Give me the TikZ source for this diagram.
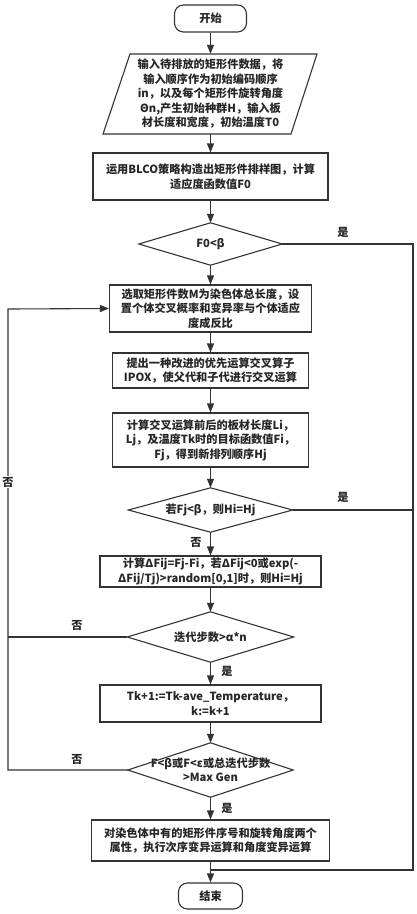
\documentclass[tikz,border=0pt]{standalone}
\usepackage{fontspec}
\setmainfont{Noto Sans CJK SC}
\usetikzlibrary{arrows.meta}
\tikzset{
  base/.style={font=\fontsize{11.2pt}{14.5pt}\selectfont\bfseries, text=black!85, align=center, inner sep=0pt},
  proc/.style={base, draw=black!80, line width=1.1pt},
  term/.style={proc, rounded corners=9pt},
  plain/.style={base},
  flow/.style={draw=black!80, line width=1.1pt},
  arr/.style={flow, -{Triangle[length=9pt,width=7pt]}},
  lab/.style={font=\fontsize{11.2pt}{13pt}\selectfont\bfseries, text=black!85, inner sep=1pt},
}
\begin{document}
\begin{tikzpicture}[x=1pt,y=-1pt]
\useasboundingbox (0,0) rectangle (416,914);
% nodes
\node[term, minimum width=72, minimum height=27] (start) at (210.5,18.5) {开始};
\node[plain, minimum width=187, minimum height=80] (in) at (210.5,94) {输入待排放的矩形件数据，将\\输入顺序作为初始编码顺序\\in，以及每个矩形件旋转角度\\Θn,产生初始种群H，输入板\\材长度和宽度，初始温度T0};
\draw[flow] (103,134) -- (130,54) -- (317,54) -- (291,134) -- cycle;
\node[proc, minimum width=235, minimum height=47] (blco) at (210.5,176.5) {运用BLCO策略构造出矩形件排样图，计算\\适应度函数值F0};
\node[plain, minimum width=143, minimum height=42] (d1) at (210.5,244) {F0<β};
\node[proc, minimum width=202, minimum height=47] (sel) at (210.5,308.5) {选取矩形件数M为染色体总长度，设\\置个体交叉概率和变异率与个体适应\\度成反比};
\node[proc, minimum width=196, minimum height=35] (ipox) at (210.5,370.5) {提出一种改进的优先运算交叉算子\\IPOX，使父代和子代进行交叉运算};
\node[proc, minimum width=196, minimum height=54] (calc) at (210.5,440) {计算交叉运算前后的板材长度Li，\\Lj，及温度Tk时的目标函数值Fi，\\Fj，得到新排列顺序Hj};
\node[plain, minimum width=164, minimum height=44] (d2) at (210.5,510) {若Fj<β，则Hi=Hj};
\node[proc, minimum width=221, minimum height=31] (dfij) at (210.5,571.5) {计算ΔFij=Fj-Fi，若ΔFij<0或exp(-\\ΔFij/Tj)>random[0,1]时，则Hi=Hj};
\node[plain, minimum width=166, minimum height=50] (d3) at (210.5,637) {迭代步数>α*n};
\node[proc, minimum width=221, minimum height=37] (tk) at (210.5,703.5) {Tk+1:=Tk-ave\_Temperature，\\k:=k+1};
\node[plain, minimum width=165, minimum height=54] (d4) at (210.5,770) {F<β或F<ε或总迭代步数\\>Max Gen};
\node[proc, minimum width=238, minimum height=41] (fin) at (210.5,840.5) {对染色体中有的矩形件序号和旋转角度两个\\属性，执行次序变异运算和角度变异运算};
\node[term, minimum width=64, minimum height=26] (end) at (210.5,896) {结束};
% diamonds
\foreach \d in {d1,d2,d3,d4}
  \draw[flow] (\d.west) -- (\d.north) -- (\d.east) -- (\d.south) -- cycle;
% coordinates
\coordinate (rc) at (413,870);
\coordinate (j) at (210.5,870);
\coordinate (lt) at (8,309);
% main flow
\draw[arr] (start) -- (in.north);
\draw[arr] (in.south) -- (blco);
\draw[arr] (blco) -- (d1.north);
\draw[arr] (d1.south) -- (sel);
\draw[arr] (sel) -- (ipox);
\draw[arr] (ipox) -- (calc);
\draw[arr] (calc) -- (d2.north);
\draw[arr] (d2.south) -- (dfij);
\draw[arr] (dfij) -- (d3.north);
\draw[arr] (d3.south) -- (tk);
\draw[arr] (tk) -- (d4.north);
\draw[arr] (d4.south) -- (fin);
\draw[arr] (fin) -- (end);
% right "yes" line
\draw[flow] (d1.east) -| (rc) -- (j);
\draw[flow] (d2.east) -- (d2.east -| rc);
% left "no" loop
\draw[flow] (d3.west) -- (d3.west -| lt);
\draw[arr] (d4.west) -- (d4.west -| lt) -- (lt) -- (sel.west);
% labels
\node[lab] at (343,232) {是};
\node[lab] at (343,497) {是};
\node[lab] at (196,542) {否};
\node[lab] at (227,671) {是};
\node[lab] at (77,625) {否};
\node[lab] at (77,759) {否};
\node[lab] at (227,808) {是};
\node[lab, fill=white] at (8,482) {否};
\end{tikzpicture}
\end{document}
